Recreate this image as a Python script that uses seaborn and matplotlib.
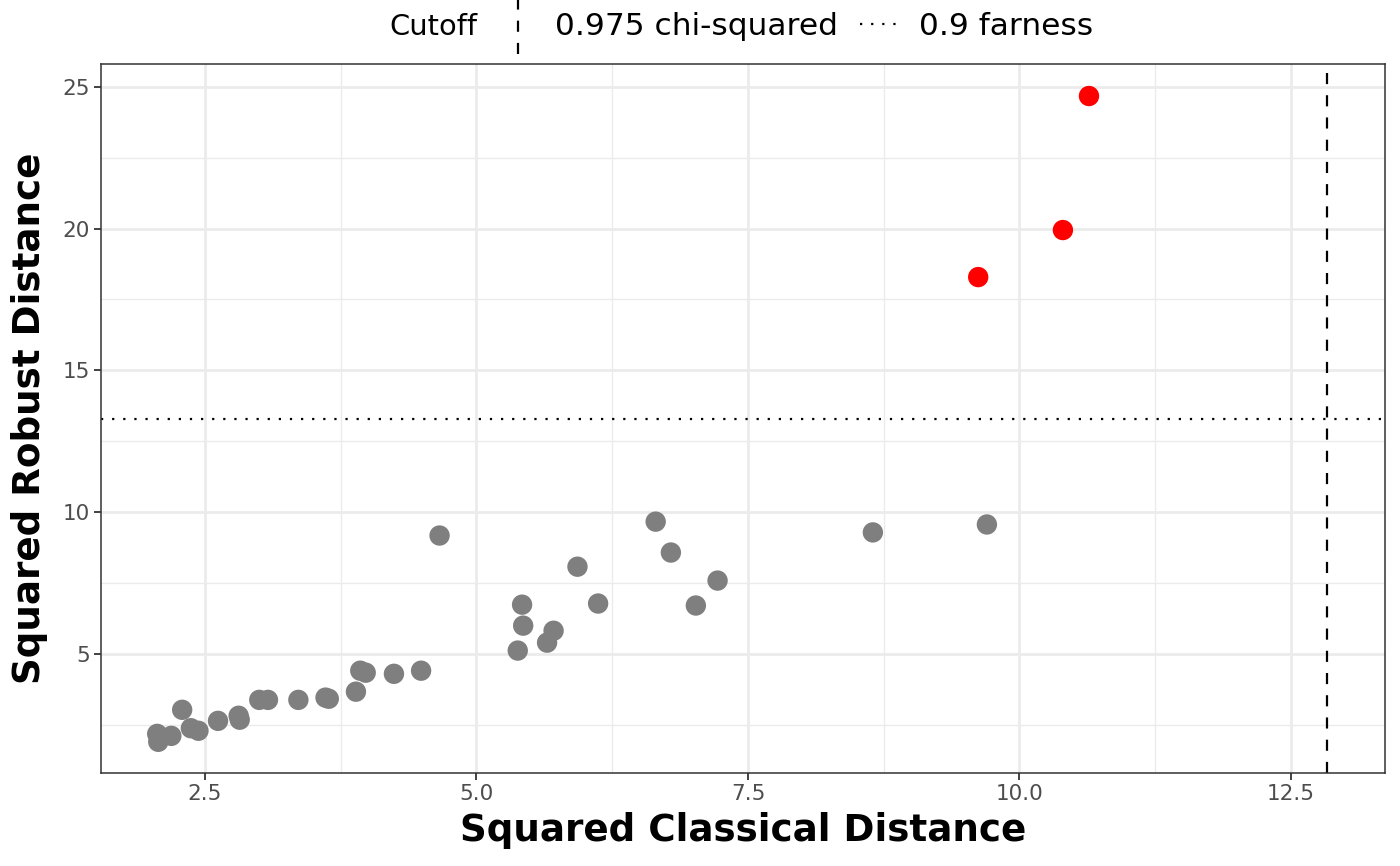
import numpy as np
import pandas as pd
import matplotlib
matplotlib.use("Agg")
import matplotlib.pyplot as plt
import seaborn as sns
from matplotlib.lines import Line2D
from matplotlib.legend_handler import HandlerLine2D

# ---- data ----
classical_dist = [10.64, 10.40, 9.62,
                  4.66, 6.65, 6.79, 5.93, 7.22, 7.02, 6.12, 5.42, 5.43, 5.71, 5.65, 5.38, 8.65, 9.70,
                  2.07, 2.06, 2.19, 2.29, 2.37, 2.44, 2.62, 2.81, 2.82, 3.00, 3.08, 3.36, 3.61, 3.64,
                  3.89, 3.93, 3.98, 4.24, 4.49]
robust_dist = [24.68, 19.95, 18.29,
               9.17, 9.66, 8.57, 8.07, 7.58, 6.70, 6.77, 6.73, 5.99, 5.81, 5.39, 5.11, 9.28, 9.56,
               1.89, 2.17, 2.10, 3.02, 2.37, 2.28, 2.63, 2.81, 2.67, 3.37, 3.37, 3.37, 3.45, 3.41,
               3.66, 4.40, 4.33, 4.29, 4.40]
outlier = [True, True, True] + [False] * 33
chisq_cutoff = 12.83
farness_cutoff = 13.27
legend_labels = ["0.975 chi-squared", "0.9 farness"]
legend_title = "Cutoff"
x_label = "Squared Classical Distance"
y_label = "Squared Robust Distance"

df = pd.DataFrame({"cd": classical_dist, "rd": robust_dist, "out": outlier})

sns.set_theme(style="white")
plt.rcParams['font.family'] = ['DejaVu Sans']

fig = plt.figure(figsize=(14, 8.66), dpi=100)
ax = fig.add_axes([0.0721, 0.1074, 0.9172, 0.8187])

# grid
ax.set_xticks([2.5, 5.0, 7.5, 10.0, 12.5])
ax.set_xticks([3.75, 6.25, 8.75, 11.25], minor=True)
ax.set_yticks([5, 10, 15, 20, 25])
ax.set_yticks([2.5, 7.5, 12.5, 17.5, 22.5], minor=True)
ax.grid(True, which="major", color="#EBEBEB", linewidth=2.0)
ax.grid(True, which="minor", color="#EBEBEB", linewidth=1.0)
ax.set_axisbelow(True)

sns.scatterplot(data=df, x="cd", y="rd", hue="out",
                palette={False: "#7F7F7F", True: "#FF0000"},
                s=215, linewidth=0, legend=False, ax=ax, zorder=3)

ax.axvline(chisq_cutoff, color="black", linewidth=1.6, dashes=(5, 5), zorder=2)
ax.axhline(farness_cutoff, color="black", linewidth=1.6, dashes=(1, 4), zorder=2)

ax.set_xlim(1.542, 13.366)
ax.set_ylim(0.79, 25.81)

for sp in ax.spines.values():
    sp.set_color("#333333")
    sp.set_linewidth(1.1)

ax.tick_params(axis="both", which="major", direction="out", length=5, width=1.3,
               color="#333333", labelcolor="#4D4D4D", labelsize=15.5, pad=3,
               bottom=True, left=True)
ax.tick_params(axis="both", which="minor", length=0)
ax.xaxis.set_major_formatter(matplotlib.ticker.FormatStrFormatter("%.1f"))
ax.yaxis.set_major_formatter(matplotlib.ticker.FormatStrFormatter("%d"))

ax.set_xlabel(x_label, fontsize=26.8, fontweight="bold", color="black", labelpad=6)
ax.set_ylabel(y_label, fontsize=26.8, fontweight="bold", color="black", labelpad=10)


class VLineHandler(HandlerLine2D):
    def create_artists(self, legend, orig_handle, xdescent, ydescent, width, height,
                       fontsize, trans):
        x = width / 2 - xdescent
        line = Line2D([x, x], [-ydescent - height * 0.85, height * 1.85 - ydescent])
        self.update_prop(line, orig_handle, legend)
        line.set_transform(trans)
        return [line]


h1 = Line2D([], [], color="black", linewidth=1.6, dashes=(5, 5))
h2 = Line2D([], [], color="black", linewidth=1.6, dashes=(1, 4))
leg = fig.legend([h1, h2], legend_labels, loc="center", bbox_to_anchor=(0.5675, 0.969),
                 ncol=2, frameon=False, fontsize=22.5, handlelength=1.4,
                 handletextpad=0.5, columnspacing=0.7,
                 handler_map={h1: VLineHandler()})
for t in leg.get_texts():
    t.set_color("black")
fig.text(0.3096, 0.969, legend_title, fontsize=20.8, ha="center", va="center", color="black")

fig.savefig("out.png", dpi=100)
